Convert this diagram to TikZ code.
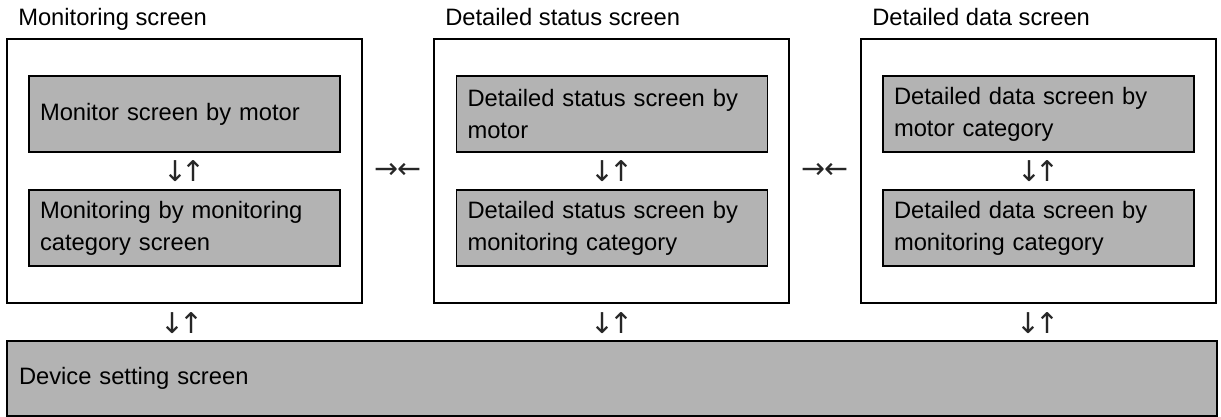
\documentclass[tikz,border=0pt]{standalone}
\usepackage{fontspec}
\setmainfont{Liberation Sans}
\newfontfamily\arrowfont{DejaVu Sans}
\usetikzlibrary{calc}
\begin{document}
\begin{tikzpicture}[x=0.75pt,y=-0.75pt,
  every node/.style={font=\fontsize{17.8pt}{23.8pt}\selectfont, text=black},
  outerbox/.style={draw=black, line width=1.3pt, fill=white, minimum width=355*0.75pt, minimum height=264*0.75pt, inner sep=0pt},
  innerbox/.style={draw=black, line width=1.3pt, fill=boxgray, minimum height=76*0.75pt, text width=289*0.75pt, inner xsep=11*0.75pt, inner ysep=0pt, align=left},
  basebox/.style={draw=black, line width=1.3pt, fill=boxgray, minimum height=75*0.75pt, text width=1186*0.75pt, inner xsep=12*0.75pt, inner ysep=0pt, align=left},
  title/.style={anchor=base west, inner sep=0pt},
  sym/.style={inner sep=0pt, font=\arrowfont\fontsize{21.5pt}{24pt}\selectfont, text=black!85}
]
\definecolor{boxgray}{RGB}{179,179,179}
\useasboundingbox (0,0) rectangle (1221,417);

% outer containers
\node[outerbox] (o1) at (184.5,171) {};
\node[outerbox] (o2) at (611.5,171) {};
\node[outerbox] (o3) at (1038.5,171) {};

% titles
\node[title] (t1) at (18,26) {Monitoring screen};
\node[title] (t2) at (445,26) {Detailed status screen};
\node[title] (t3) at (872,26) {Detailed data screen};

% inner boxes
\node[innerbox] (a1) at (184.5,114) {Monitor screen by motor};
\node[innerbox] (a2) at (184.5,228) {Monitoring by monitoring\\category screen};
\node[innerbox] (b1) at (612,114) {Detailed status screen by\\motor};
\node[innerbox] (b2) at (612,228) {Detailed status screen by\\monitoring category};
\node[innerbox] (c1) at (1038.5,114) {Detailed data screen by\\motor category};
\node[innerbox] (c2) at (1038.5,228) {Detailed data screen by\\monitoring category};

% base box
\node[basebox] (d) at (612,378.5) {Device setting screen};

% arrow symbols (text)
\node[sym] (s1) at ($(a1.south)!0.5!(a2.north)$) {↓\kern-4pt↑};
\node[sym] (s2) at ($(b1.south)!0.5!(b2.north)$) {↓\kern-4pt↑};
\node[sym] (s3) at ($(c1.south)!0.5!(c2.north)$) {↓\kern-4pt↑};
\node[sym] (h1) at ($(o1.east)!0.5!(o2.west)$) {→\kern-1.5pt←};
\node[sym] (h2) at ($(o2.east)!0.5!(o3.west)$) {→\kern-1.5pt←};
\node[sym] (v1) at (182,323) {↓\kern-4pt↑};
\node[sym] (v2) at (612,323) {↓\kern-4pt↑};
\node[sym] (v3) at (1038,323) {↓\kern-4pt↑};
\end{tikzpicture}
\end{document}
